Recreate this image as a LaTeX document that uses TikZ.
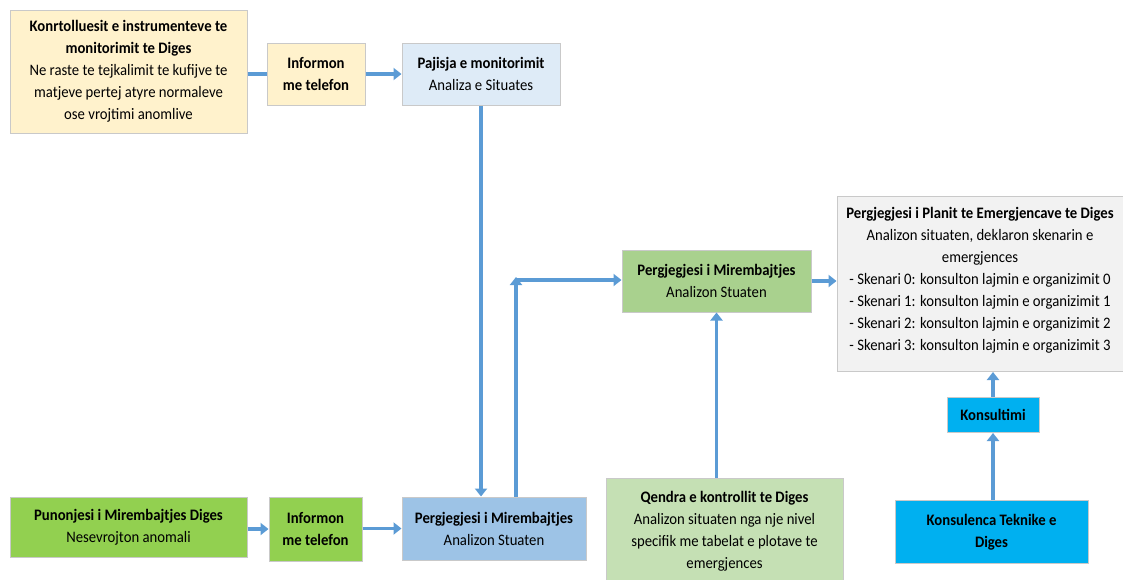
\documentclass[tikz,border=0pt]{standalone}
\usepackage{fontspec}
\setmainfont{Carlito}[FakeStretch=0.92]
\usetikzlibrary{arrows.meta}
\definecolor{ablue}{HTML}{5B9BD5}
\definecolor{boxgray}{HTML}{C9C9C9}
\definecolor{fyellow}{HTML}{FFF2CC}
\definecolor{flblue}{HTML}{DEEBF7}
\definecolor{fmblue}{HTML}{9DC3E6}
\definecolor{fgreen}{HTML}{92D050}
\definecolor{fmgreen}{HTML}{A9D18E}
\definecolor{flgreen}{HTML}{C5E0B4}
\definecolor{fgray}{HTML}{F2F2F2}
\definecolor{fcyan}{HTML}{00B0F0}
\begin{document}
\begin{tikzpicture}[x=1pt,y=-1pt,
  box/.style={draw=boxgray, line width=1pt, align=center, inner sep=2pt,
    font=\fontsize{16}{22}\selectfont},
  link/.style={draw=ablue, line width=3.6pt},
  arr/.style={link, -{Triangle[width=12pt,length=8pt]}}]
\useasboundingbox (0,0) rectangle (1123,579);
\node[box, fill=fyellow, minimum width=237pt, minimum height=123pt] (A) at (128.5,71.5)
  {\textbf{Konrtolluesit e instrumenteve te}\\\textbf{monitorimit te Diges}\\Ne raste te tejkalimit te kufijve te\\matjeve pertej atyre normaleve\\ose vrojtimi anomlive};
\node[box, fill=fyellow, minimum width=98pt, minimum height=62pt] (B) at (316,74)
  {\textbf{Informon}\\\textbf{me telefon}};
\node[box, fill=flblue, minimum width=158pt, minimum height=62pt] (C) at (481,74)
  {\textbf{Pajisja e monitorimit}\\Analiza e Situates};
\node[box, fill=fgreen, minimum width=237pt, minimum height=60pt] (D) at (128.5,527)
  {\textbf{Punonjesi i Mirembajtjes Diges}\\Nesevrojton anomali};
\node[box, fill=fgreen, minimum width=93pt, minimum height=64pt] (E) at (315.5,529)
  {\textbf{Informon}\\\textbf{me telefon}};
\node[box, fill=fmblue, minimum width=184pt, minimum height=63pt] (F) at (494,528.5)
  {\textbf{Pergjegjesi i Mirembajtjes}\\Analizon Stuaten};
\node[box, fill=fmgreen, minimum width=189pt, minimum height=62pt] (G) at (716.5,281)
  {\textbf{Pergjegjesi i Mirembajtjes}\\Analizon Stuaten};
\node[box, fill=fgray, minimum width=286pt, minimum height=175pt] (H) at (980,284) {};
\node[align=center, anchor=north, inner sep=0pt, font=\fontsize{16}{22}\selectfont] (Ht) at ([yshift=-11pt]H.north)
  {\textbf{Pergjegjesi i Planit te Emergjencave te Diges}\\Analizon situaten, deklaron skenarin e\\emergjences\\- Skenari 0: konsulton lajmin e organizimit 0\\- Skenari 1: konsulton lajmin e organizimit 1\\- Skenari 2: konsulton lajmin e organizimit 2\\- Skenari 3: konsulton lajmin e organizimit 3};
\node[box, fill=fcyan, minimum width=92pt, minimum height=35pt] (I) at (993,415)
  {\textbf{Konsultimi}};
\node[box, fill=fcyan, minimum width=193pt, minimum height=63pt] (J) at (991.5,532)
  {\textbf{Konsulenca Teknike e}\\\textbf{Diges}};
\node[box, fill=flgreen, minimum width=237pt, minimum height=106pt] (K) at (724.5,531)
  {\textbf{Qendra e kontrollit te Diges}\\Analizon situaten nga nje nivel\\specifik me tabelat e plotave te\\emergjences};
\coordinate (P) at (516,280);
\draw[link] (A.east |- B.west) -- (B.west);
\draw[arr] (B.east) -- (C.west);
\draw[arr] (C.south) -- (C.south |- F.north);
\draw[arr] (D.east |- E.west) -- (E.west);
\draw[arr] (E.east |- F.west) -- (F.west);
\draw[arr] (P |- F.north) -- ([yshift=3pt]P);
\draw[arr] (P) -- (P -| G.west);
\draw[arr] (G.east) -- (G.east -| H.west);
\draw[arr] (G.south |- K.north) -- (G.south);
\draw[arr] (I.south |- J.north) -- (I.south);
\draw[arr] (I.north) -- (I.north |- H.south);
\end{tikzpicture}
\end{document}
